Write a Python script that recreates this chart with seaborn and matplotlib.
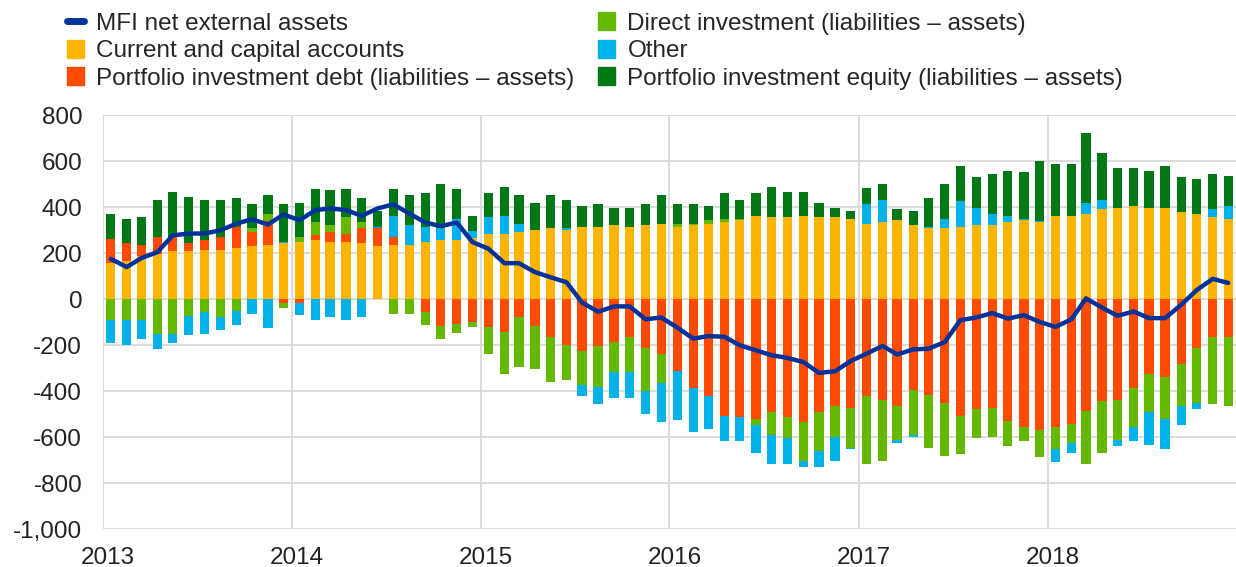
import pandas as pd
import seaborn as sns
import matplotlib.pyplot as plt
import matplotlib.dates as mdates
import matplotlib.transforms as mtransforms
from matplotlib.patches import Patch
from matplotlib.lines import Line2D
from matplotlib.ticker import FuncFormatter, MultipleLocator


months = pd.date_range('2013-01-01', periods=72, freq='MS')
years = pd.date_range('2013-01-01', periods=6, freq='YS')

current = [158, 165, 187, 194, 207, 207, 215, 215, 222, 229, 237, 242,
           250, 257, 250, 250, 242, 229, 237, 237, 250, 257, 257, 264,
           285, 285, 292, 299, 307, 299, 312, 312, 320, 312, 320, 327,
           312, 320, 327, 334, 342, 362, 355, 355, 362, 355, 355, 347,
           327, 334, 342, 320, 307, 307, 312, 320, 320, 334, 342, 334,
           362, 362, 369, 390, 397, 404, 397, 397, 377, 369, 355, 347]

debt = [105, 77, 50, 78, 65, 35, 42, 57, 92, 63, 103, -18,
        -15, 20, 42, 35, 65, 78, 35, 0, -58, -115, -108, -101,
        -121, -143, -80, -115, -164, -199, -226, -206, -185, -164, -213, -241,
        -311, -388, -423, -507, -514, -521, -493, -514, -536, -493, -464, -472,
        -423, -437, -464, -394, -416, -451, -507, -479, -472, -529, -556, -571,
        -556, -542, -486, -444, -437, -388, -324, -339, -283, -213, -164, -164]

direct = [-92, -92, -92, -150, -150, -73, -58, -80, -51, 15, 29, -19,
          20, 57, 28, 70, 27, 0, -63, -63, -54, -60, -41, -20,
          -120, -181, -215, -187, -195, -153, -148, -175, -132, -153, -188, -125,
          15, 7, 15, 13, 5, -28, -98, -92, -168, -168, -135, -175,
          -294, -267, -148, -197, -231, -231, -168, -125, -127, -110, -63, -118,
          -98, -84, -231, -225, -175, -168, -169, -182, -181, -238, -294, -300]

other = [-101, -107, -83, -69, -41, -83, -92, -56, -63, -66, -128, 6,
         -55, -91, -77, -91, -77, 5, 90, 83, 62, 50, 90, 34,
         70, 77, 35, 0, 0, 8, -49, -76, -112, -112, -98, -168,
         -217, -190, -141, -112, -105, -120, -126, -111, -27, -70, -105, -7,
         85, 98, -14, -8, 5, 40, 113, 77, 49, 28, 5, 6,
         -56, -43, 49, 42, -27, -63, -141, -133, -85, -28, 35, 57]

equity = [105, 105, 119, 160, 195, 203, 175, 160, 125, 105, 84, 164,
          148, 146, 153, 125, 105, 71, 118, 133, 148, 195, 133, 64,
          105, 126, 126, 119, 146, 125, 92, 100, 77, 85, 92, 126,
          85, 85, 62, 113, 85, 98, 133, 112, 105, 63, 42, 36,
          70, 70, 48, 63, 127, 155, 155, 133, 176, 196, 205, 260,
          225, 225, 302, 203, 175, 168, 161, 183, 153, 154, 155, 133]

mfi = [175, 139, 178, 204, 277, 285, 285, 299, 328, 347, 324, 368,
       343, 387, 394, 387, 362, 394, 412, 372, 333, 317, 333, 248,
       219, 156, 156, 117, 95, 73, -15, -55, -32, -32, -88, -80,
       -124, -172, -161, -164, -201, -223, -244, -256, -274, -321, -314, -270,
       -237, -204, -241, -219, -216, -187, -92, -80, -61, -85, -70, -99,
       -121, -88, 3, -37, -73, -54, -83, -83, -25, 39, 88, 70]

labels = ['MFI net external assets',
          'Current and capital accounts',
          'Portfolio investment debt (liabilities \u2013 assets)',
          'Direct investment (liabilities \u2013 assets)',
          'Other',
          'Portfolio investment equity (liabilities \u2013 assets)']

colors = {'mfi': '#003299', 'current': '#FFB400', 'debt': '#FF4B00',
          'direct': '#65B800', 'other': '#00B1EA', 'equity': '#007816'}

sns.set_style('white')
plt.rcParams['font.family'] = ['Liberation Sans', 'DejaVu Sans']
plt.rcParams['axes.unicode_minus'] = False

fig = plt.figure(figsize=(12.36, 5.67), dpi=100)
ax = fig.add_axes([0.0833, 0.067, 0.9167, 0.730])

centers = months + pd.Timedelta(days=15)
stack = [('current', current), ('debt', debt), ('direct', direct),
         ('other', other), ('equity', equity)]

df = pd.DataFrame({name: vals for name, vals in stack}, index=centers)
pos_bottom = pd.Series(0.0, index=centers)
neg_bottom = pd.Series(0.0, index=centers)
for name, _ in stack:
    v = df[name]
    pos = v.clip(lower=0)
    neg = v.clip(upper=0)
    ax.bar(centers, pos, bottom=pos_bottom, width=18, color=colors[name], linewidth=0, zorder=2)
    ax.bar(centers, neg, bottom=neg_bottom, width=18, color=colors[name], linewidth=0, zorder=2)
    pos_bottom += pos
    neg_bottom += neg

sns.lineplot(x=centers, y=mfi, ax=ax, color=colors['mfi'], linewidth=3.2, zorder=3)

ax.set_ylim(-1000, 800)
ax.set_xlim(pd.Timestamp('2013-01-01'), pd.Timestamp('2018-12-31'))
ax.yaxis.set_major_locator(MultipleLocator(200))
ax.yaxis.set_major_formatter(FuncFormatter(lambda v, p: f'{v:,.0f}'))
ax.set_xticks(years)
ax.xaxis.set_major_formatter(mdates.DateFormatter('%Y'))
ax.set_xlabel('')
ax.set_ylabel('')
ax.grid(True, color='#d9d9d9', linewidth=1.3, zorder=0)
ax.set_axisbelow(True)
for s in ax.spines.values():
    s.set_visible(False)
ax.tick_params(axis='both', length=0, labelsize=17.5, colors='#222222')
ax.tick_params(axis='y', pad=15)
ax.tick_params(axis='x', pad=13)
shift = mtransforms.ScaledTranslation(5 / 100, 0, fig.dpi_scale_trans)
for t in ax.get_xticklabels():
    t.set_horizontalalignment('center')
    t.set_transform(t.get_transform() + shift)

handles1 = [Line2D([0], [0], color=colors['mfi'], linewidth=5),
            Patch(color=colors['current']),
            Patch(color=colors['debt'])]
handles2 = [Patch(color=colors['direct']),
            Patch(color=colors['other']),
            Patch(color=colors['equity'])]

leg_kw = dict(frameon=False, fontsize=17.5, handlelength=0.7, handleheight=0.75,
              handletextpad=0.5, labelspacing=0.21, borderaxespad=0, borderpad=0)
fig.legend(handles1, labels[:3], loc='upper left', bbox_to_anchor=(0.054, 0.978), **leg_kw)
fig.legend(handles2, labels[3:], loc='upper left', bbox_to_anchor=(0.484, 0.978), **leg_kw)

fig.savefig('out.png', dpi=100)
